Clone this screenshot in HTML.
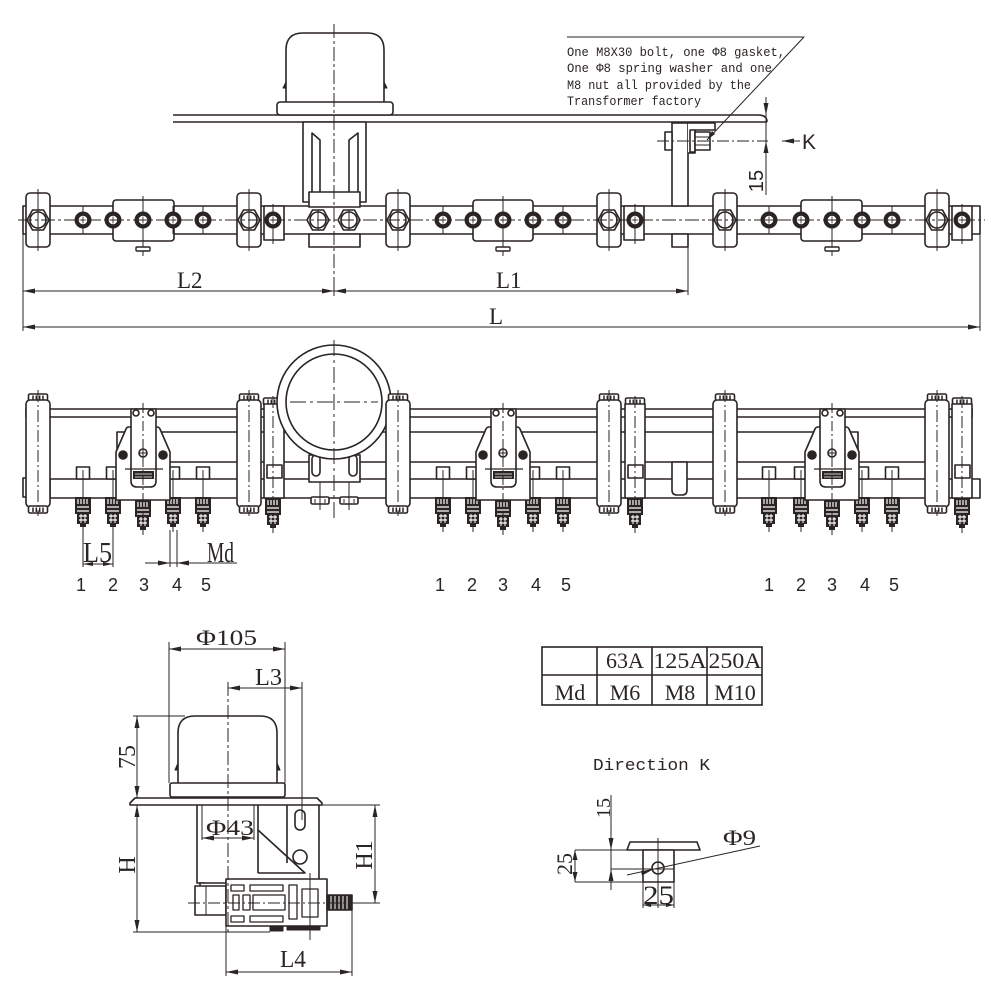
<!DOCTYPE html>
<html><head><meta charset="utf-8"><style>
html,body{margin:0;padding:0;background:#fff;}
svg{display:block}
.s{font-family:"Liberation Sans",sans-serif}
.r{font-family:"Liberation Serif",serif}
.m{font-family:"Liberation Mono",monospace}
</style></head><body>
<svg width="1000" height="1000" viewBox="0 0 1000 1000" xmlns="http://www.w3.org/2000/svg">
<defs>
 <g id="hx"><polygon points="-11,0 -5.5,-10 5.5,-10 11,0 5.5,10 -5.5,10" fill="#fff"/><circle r="8" fill="none"/></g>
 <g id="bt"><circle r="8.5" fill="#2a2422" stroke="none"/><circle r="4.8" fill="#fff" stroke-width="1"/><path d="M-3.5,0H3.5M0,-3.5V3.5" stroke-width="0.8" fill="none"/></g>
 <g id="ct"><rect x="-12" y="-27" width="24" height="54" rx="4" fill="#fff"/><use href="#hx"/><line x1="0" y1="-31" x2="0" y2="31" stroke-width="1"/></g>
 <g id="nut"><rect x="-9.5" y="0" width="19" height="7" rx="1.5" fill="#fff"/><path d="M-5,1.5V6M-1.7,1.5V6M1.7,1.5V6M5,1.5V6" stroke-width="1.5"/></g>
 <g id="pl">
  <use href="#nut" y="394"/>
  <rect x="-12" y="400" width="24" height="107" rx="4" fill="#fff"/>
  <use href="#nut" y="506"/>
  <line x1="0" y1="390" x2="0" y2="516" stroke-width="1" stroke-dasharray="12,3,2,3"/>
 </g>
 <g id="tm">
  <rect x="-8" y="0" width="16" height="17" fill="#2a2422" stroke="none"/>
  <path d="M-5,2V7M-2,2V7M1,2V7M4,2V7" stroke="#fff" stroke-width="1.2"/>
  <path d="M-6,10H6M-6,14H6" stroke="#fff" stroke-width="1.3"/>
  <rect x="-6" y="16" width="12" height="11" fill="#2a2422" stroke="none"/>
  <path d="M-4,19H4M-4,23H4" stroke="#fff" stroke-width="1.3"/>
  <path d="M-2,17V27M2,17V27" stroke="#fff" stroke-width="1"/>
  <rect x="-3" y="26" width="6" height="4" fill="#2a2422" stroke="none"/>
  <line x1="0" y1="28" x2="0" y2="35" stroke-width="1"/>
 </g>
 <g id="sl"><rect x="-6.5" y="467" width="13" height="12" fill="#fff"/><line x1="0" y1="470" x2="0" y2="498" stroke-width="1"/></g>
 <g id="br">
  <path d="M-27,500V452L-17,429Q-16,427-14,427H14Q16,427 17,429L27,452V500Z" fill="#fff"/>
  <path d="M-12,409V481Q-12,487-6,487H7Q13,487 13,481V409Z" fill="#fff"/>
  <circle cx="-7" cy="413" r="3" fill="#fff"/><circle cx="8" cy="413" r="3" fill="#fff"/>
  <circle cx="-20" cy="455" r="4" fill="#2a2422"/><circle cx="20" cy="455" r="4" fill="#2a2422"/>
  <circle cx="0" cy="453" r="4" fill="#fff"/><path d="M-4,453H4M0,449V457" stroke-width="1"/>
  <line x1="-18" y1="469" x2="20" y2="469" stroke-width="1.2"/>
  <rect x="-10" y="471" width="21" height="8" fill="#2a2422" stroke="none"/>
  <path d="M-8,474H9M-8,477H9" stroke="#fff" stroke-width="0.8"/>
  <line x1="0" y1="403" x2="0" y2="532" stroke-width="1" stroke-dasharray="10,3,2,3"/>
 </g>
</defs>

<g stroke="#2a2422" stroke-width="1.6" fill="none" stroke-linejoin="round">

<!-- ================= TOP VIEW ================= -->
<path d="M173,115H758Q767,115 767,122M173,122H767"/>
<path d="M286,102V50Q286,33 303,33H367Q384,33 384,50V102"/>
<path d="M286,82L283,88H286M384,82L387,88H384" fill="#2a2422" stroke-width="1"/>
<rect x="277" y="102" width="116" height="13" rx="3" fill="#fff"/>
<rect x="303" y="122" width="63" height="80" fill="#fff"/>
<path d="M312,192V133L320,140V192M358,192V133L349,140V192"/>
<!-- rail -->
<rect x="23" y="206" width="957" height="28" fill="#fff"/>
<rect x="309" y="192" width="51" height="15" fill="#fff"/>
<rect x="309" y="234" width="51" height="13" fill="#fff"/>
<!-- bracket -->
<rect x="672" y="123" width="16" height="83" fill="#fff"/>
<rect x="672" y="234" width="16" height="13" fill="#fff"/>
<path d="M688,123H715V130H695V153H688" fill="#fff"/>
<rect x="665" y="132" width="7" height="18" fill="#fff"/>
<rect x="690" y="130" width="5" height="22" fill="#fff"/>
<rect x="695" y="132" width="15" height="18" fill="#fff"/>
<path d="M695,137H710M695,145H710" stroke-width="1"/>
<line x1="657" y1="141" x2="768" y2="141" stroke-width="1" stroke-dasharray="12,3,2,3"/>
<!-- clamp boxes -->
<rect x="113" y="200" width="61" height="41" rx="3" fill="#fff"/>
<rect x="473" y="200" width="60" height="41" rx="3" fill="#fff"/>
<rect x="801" y="200" width="61" height="41" rx="3" fill="#fff"/>
<g stroke-width="1.4">
<path d="M143,196V256M503,196V256M832,196V256" stroke-width="1"/>
<rect x="136" y="247" width="14" height="4" rx="1" fill="#fff"/>
<rect x="496" y="247" width="14" height="4" rx="1" fill="#fff"/>
<rect x="825" y="247" width="14" height="4" rx="1" fill="#fff"/>
</g>
<!-- small blocks -->
<rect x="264" y="206" width="20" height="34" fill="#fff"/>
<rect x="624" y="206" width="20" height="34" fill="#fff"/>
<rect x="952" y="206" width="20" height="34" fill="#fff"/>
<!-- bolt thin lines -->
<path d="M83,206V234M113,206V234M173,206V234M203,206V234M273,204V244M443,206V234M473,206V234M533,206V234M563,206V234M635,204V244M769,206V234M801,206V234M862,206V234M892,206V234M962,204V244" stroke-width="1"/>
<!-- clamps -->
<use href="#ct" x="38" y="220"/><use href="#ct" x="249" y="220"/><use href="#ct" x="398" y="220"/>
<use href="#ct" x="609" y="220"/><use href="#ct" x="725" y="220"/><use href="#ct" x="937" y="220"/>
<use href="#hx" x="318" y="220"/><use href="#hx" x="349" y="220"/>
<path d="M318,210V230M349,210V230" stroke-width="1"/>
<!-- bolts -->
<use href="#bt" x="83" y="220"/><use href="#bt" x="113" y="220"/><use href="#bt" x="143" y="220"/><use href="#bt" x="173" y="220"/><use href="#bt" x="203" y="220"/>
<use href="#bt" x="273" y="220"/>
<use href="#bt" x="443" y="220"/><use href="#bt" x="473" y="220"/><use href="#bt" x="503" y="220"/><use href="#bt" x="533" y="220"/><use href="#bt" x="563" y="220"/>
<use href="#bt" x="635" y="220"/>
<use href="#bt" x="769" y="220"/><use href="#bt" x="801" y="220"/><use href="#bt" x="832" y="220"/><use href="#bt" x="862" y="220"/><use href="#bt" x="892" y="220"/>
<use href="#bt" x="962" y="220"/>
<!-- center lines -->
<line x1="18" y1="220" x2="985" y2="220" stroke-width="1" stroke-dasharray="14,3,3,3"/>
<line x1="334" y1="24" x2="334" y2="296" stroke-width="1" stroke-dasharray="14,3,3,3"/>
<!-- dims -->
<g stroke-width="1">
<path d="M23,206V331M688,247V295M980,234V331M334,280V296"/>
<path d="M23,291H688M23,327H980"/>
<path d="M766,97V195M782,141H800"/>
<path d="M567,37H804L707,140"/>
</g>
<g fill="#2a2422" stroke="none">
<polygon points="23,291 35,288.5 35,293.5"/><polygon points="334,291 322,288.5 322,293.5"/>
<polygon points="334,291 346,288.5 346,293.5"/><polygon points="688,291 676,288.5 676,293.5"/>
<polygon points="23,327 35,324.5 35,329.5"/><polygon points="980,327 968,324.5 968,329.5"/>
<polygon points="766,115 763.5,103 768.5,103"/><polygon points="766,141 763.5,153 768.5,153"/>
<polygon points="782,141 794,138.5 794,143.5"/>
<polygon points="707,140 712,131 715,134"/>
</g>
</g>

<g fill="#2a2422">
<text class="r" x="177" y="288" font-size="23">L2</text>
<text class="r" x="496" y="288" font-size="23">L1</text>
<text class="r" x="489" y="324" font-size="23">L</text>
<text class="s" x="802" y="149" font-size="21">K</text>
<text class="s" font-size="20" transform="translate(763,181) rotate(-90)" text-anchor="middle">15</text>
<text class="m" x="567" y="56" font-size="13" textLength="218" lengthAdjust="spacingAndGlyphs">One M8X30 bolt, one Φ8 gasket,</text>
<text class="m" x="567" y="72" font-size="13" textLength="205" lengthAdjust="spacingAndGlyphs">One Φ8 spring washer and one</text>
<text class="m" x="567" y="89" font-size="13" textLength="184" lengthAdjust="spacingAndGlyphs">M8 nut all provided by the</text>
<text class="m" x="567" y="105" font-size="13" textLength="134" lengthAdjust="spacingAndGlyphs">Transformer factory</text>
</g>

<!-- ================= MIDDLE VIEW ================= -->
<g stroke="#2a2422" stroke-width="1.6" fill="none" stroke-linejoin="round">
<rect x="26" y="409" width="946" height="8" fill="#fff"/>
<path d="M117,462V432H858V462M117,462H926"/>
<rect x="50" y="479" width="930" height="19" fill="#fff"/>
<rect x="23" y="478" width="4" height="19" fill="#fff"/>
<path d="M672,462V490Q672,495 677,495H682Q687,495 687,490V462Z" fill="#fff"/>
<!-- slots -->
<use href="#sl" x="83"/><use href="#sl" x="113"/><use href="#sl" x="173"/><use href="#sl" x="203"/>
<use href="#sl" x="443"/><use href="#sl" x="473"/><use href="#sl" x="533"/><use href="#sl" x="563"/>
<use href="#sl" x="769"/><use href="#sl" x="801"/><use href="#sl" x="862"/><use href="#sl" x="892"/>
<!-- terminals -->
<use href="#tm" x="83" y="497"/><use href="#tm" x="113" y="497"/><use href="#tm" x="143" y="500"/><use href="#tm" x="173" y="497"/><use href="#tm" x="203" y="497"/>
<use href="#tm" x="443" y="497"/><use href="#tm" x="473" y="497"/><use href="#tm" x="503" y="500"/><use href="#tm" x="533" y="497"/><use href="#tm" x="563" y="497"/>
<use href="#tm" x="769" y="497"/><use href="#tm" x="801" y="497"/><use href="#tm" x="832" y="500"/><use href="#tm" x="862" y="497"/><use href="#tm" x="892" y="497"/>
<use href="#tm" x="273" y="498"/><use href="#tm" x="635" y="498"/><use href="#tm" x="962" y="498"/>
<!-- small pillars -->
<g>
<use href="#nut" x="273" y="398"/><rect x="264" y="404" width="20" height="94" fill="#fff"/><rect x="267" y="465" width="15" height="13" fill="#fff"/><line x1="273" y1="396" x2="273" y2="498" stroke-width="1" stroke-dasharray="12,3,2,3"/>
<use href="#nut" x="635" y="398"/><rect x="625" y="404" width="20" height="94" fill="#fff"/><rect x="628" y="465" width="15" height="13" fill="#fff"/><line x1="635" y1="396" x2="635" y2="498" stroke-width="1" stroke-dasharray="12,3,2,3"/>
<use href="#nut" x="962" y="398"/><rect x="952" y="404" width="20" height="94" fill="#fff"/><rect x="955" y="465" width="15" height="13" fill="#fff"/><line x1="962" y1="396" x2="962" y2="498" stroke-width="1" stroke-dasharray="12,3,2,3"/>
</g>
<!-- saddle & circle -->
<rect x="309" y="455" width="51" height="27" fill="#fff"/>
<rect x="312" y="455" width="8" height="21" rx="4" fill="#fff"/>
<rect x="349" y="455" width="8" height="21" rx="4" fill="#fff"/>
<rect x="311" y="497" width="18" height="7" rx="1.5" fill="#fff"/><rect x="340" y="497" width="18" height="7" rx="1.5" fill="#fff"/>
<path d="M320,482V510M349,482V510M315,499V503M325,499V503M344,499V503M354,499V503" stroke-width="1"/>
<circle cx="334" cy="402" r="57" fill="#fff"/>
<circle cx="334" cy="402" r="48" fill="#fff"/>
<line x1="290" y1="402" x2="378" y2="402" stroke-width="1" stroke-dasharray="16,4,3,4"/>
<line x1="334" y1="340" x2="334" y2="518" stroke-width="1" stroke-dasharray="16,4,3,4"/>
<!-- pillars -->
<use href="#pl" x="38"/><use href="#pl" x="249"/><use href="#pl" x="398"/>
<use href="#pl" x="609"/><use href="#pl" x="725"/><use href="#pl" x="937"/>
<!-- brackets -->
<use href="#br" x="143"/><use href="#br" x="503"/><use href="#br" x="832"/>
<!-- L5 / Md dims -->
<g stroke-width="1">
<path d="M83,530V567M113,530V567M83,564H113"/>
<path d="M170,530V567M177,530V567M145,563H237"/>
</g>
<g fill="#2a2422" stroke="none">
<polygon points="83,564 93,562 93,566"/><polygon points="113,564 103,562 103,566"/>
<polygon points="170,563 158,560.5 158,565.5"/><polygon points="177,563 189,560.5 189,565.5"/>
</g>
</g>
<g fill="#2a2422">
<text class="r" x="83" y="562" font-size="28" textLength="29" lengthAdjust="spacingAndGlyphs">L5</text>
<text class="r" x="207" y="562" font-size="28" textLength="27" lengthAdjust="spacingAndGlyphs">Md</text>
<g class="s" font-size="18" text-anchor="middle">
<text x="81" y="591">1</text><text x="113" y="591">2</text><text x="144" y="591">3</text><text x="177" y="591">4</text><text x="206" y="591">5</text>
<text x="440" y="591">1</text><text x="472" y="591">2</text><text x="503" y="591">3</text><text x="536" y="591">4</text><text x="566" y="591">5</text>
<text x="769" y="591">1</text><text x="801" y="591">2</text><text x="832" y="591">3</text><text x="865" y="591">4</text><text x="894" y="591">5</text>
</g>
</g>

<!-- ================= SIDE VIEW ================= -->
<g stroke="#2a2422" stroke-width="1.6" fill="none" stroke-linejoin="round">
<path d="M178,783V733Q178,716 195,716H260Q277,716 277,733V783"/>
<path d="M178,763L175,770H178M277,763L280,770H277" fill="#2a2422" stroke-width="1"/>
<rect x="170" y="783" width="115" height="14" rx="2" fill="#fff"/>
<path d="M130,803L135,798H317L322,803V805H130Z" fill="#fff"/>
<path d="M197,805V883H205M258,805V873"/>
<path d="M202,805V840M254,805V840" stroke-width="1"/>
<path d="M258,830L305,873H258"/>
<path d="M287,805V863M319,805V880"/>
<rect x="295" y="810" width="10" height="20" rx="5"/>
<circle cx="300" cy="857" r="7"/>
<!-- switch -->
<rect x="200" y="883" width="26" height="4" fill="#fff"/>
<rect x="195" y="886" width="31" height="29" fill="#fff"/>
<line x1="206" y1="886" x2="206" y2="915" stroke-width="1"/>
<rect x="226" y="879" width="101" height="47" fill="#fff"/>
<g stroke-width="1.3">
<rect x="231" y="885" width="13" height="6"/><rect x="250" y="885" width="33" height="6"/>
<rect x="289" y="885" width="8" height="34"/><rect x="302" y="889" width="16" height="28"/>
<rect x="233" y="895" width="6" height="15"/><rect x="243" y="895" width="7" height="15"/><rect x="253" y="895" width="32" height="15"/>
<rect x="231" y="916" width="13" height="6"/><rect x="250" y="916" width="33" height="6"/>
</g>
<rect x="270" y="926" width="13" height="5" fill="#2a2422" stroke-width="1"/>
<rect x="287" y="926" width="33" height="4" fill="#2a2422" stroke-width="1"/>
<rect x="327" y="895" width="25" height="15" fill="#2a2422"/>
<path d="M331,896V909M335,896V909M339,896V909M343,896V909M347,896V909" stroke="#fff" stroke-width="1"/>
<line x1="310" y1="873" x2="310" y2="940" stroke-width="1"/>
<line x1="188" y1="903" x2="380" y2="903" stroke-width="1" stroke-dasharray="12,3,2,3"/>
<line x1="228" y1="682" x2="228" y2="935" stroke-width="1" stroke-dasharray="14,3,3,3"/>
<!-- dims -->
<g stroke-width="1">
<path d="M169,642V783M285,642V783M169,649H285"/>
<path d="M302,682V820M228,688H302"/>
<path d="M133,716H185M137,716V798M137,805V932M133,932H270"/>
<path d="M202,838H254"/>
<path d="M322,805H380M352,903H380M375,805V903"/>
<path d="M226,926V976M352,910V976M226,972H352"/>
</g>
<g fill="#2a2422" stroke="none">
<polygon points="169,649 181,646.5 181,651.5"/><polygon points="285,649 273,646.5 273,651.5"/>
<polygon points="228,688 240,685.5 240,690.5"/><polygon points="302,688 290,685.5 290,690.5"/>
<polygon points="137,716 134.5,728 139.5,728"/><polygon points="137,798 134.5,786 139.5,786"/>
<polygon points="137,805 134.5,817 139.5,817"/><polygon points="137,932 134.5,920 139.5,920"/>
<polygon points="202,838 214,835.5 214,840.5"/><polygon points="254,838 242,835.5 242,840.5"/>
<polygon points="375,805 372.5,817 377.5,817"/><polygon points="375,903 372.5,891 377.5,891"/>
<polygon points="226,972 238,969.5 238,974.5"/><polygon points="352,972 340,969.5 340,974.5"/>
</g>
</g>
<g fill="#2a2422" class="r">
<text x="196" y="645" font-size="22" textLength="61" lengthAdjust="spacingAndGlyphs">Φ105</text>
<text x="255" y="685" font-size="24" textLength="27" lengthAdjust="spacingAndGlyphs">L3</text>
<text x="206" y="835" font-size="22" textLength="48" lengthAdjust="spacingAndGlyphs">Φ43</text>
<text x="280" y="967" font-size="24" textLength="26" lengthAdjust="spacingAndGlyphs">L4</text>
<text font-size="24" transform="translate(135,757) rotate(-90)" text-anchor="middle">75</text>
<text font-size="24" transform="translate(135,865) rotate(-90)" text-anchor="middle">H</text>
<text font-size="24" transform="translate(372,855) rotate(-90)" text-anchor="middle">H1</text>
</g>

<!-- ================= TABLE ================= -->
<g stroke="#2a2422" stroke-width="1.6" fill="none">
<rect x="542" y="647" width="220" height="58"/>
<path d="M542,675H762M597,647V705M652,647V705M707,647V705"/>
</g>
<g fill="#2a2422" class="r" font-size="22" text-anchor="middle">
<text x="625" y="668">63A</text><text x="680" y="668" textLength="53" lengthAdjust="spacingAndGlyphs">125A</text><text x="735" y="668" textLength="53" lengthAdjust="spacingAndGlyphs">250A</text>
<text x="570" y="700">Md</text><text x="625" y="700">M6</text><text x="680" y="700">M8</text><text x="735" y="700">M10</text>
</g>

<!-- ================= DIRECTION K ================= -->
<text class="m" x="593" y="770" font-size="17" fill="#2a2422" textLength="117" lengthAdjust="spacingAndGlyphs">Direction K</text>
<g stroke="#2a2422" stroke-width="1.6" fill="none" stroke-linejoin="round">
<path d="M627,850L630,842H697L700,850Z" fill="#fff"/>
<rect x="643" y="850" width="31" height="32" fill="#fff"/>
<circle cx="658" cy="868" r="6"/>
<g stroke-width="1">
<path d="M658,838V908M611,869H674"/>
<path d="M611,795V890"/>
<path d="M575,850H643M575,882H643M575,850V882"/>
<path d="M627,875L760,846"/>
<path d="M643,882V908M674,882V908M643,905H674"/>
</g>
<g fill="#2a2422" stroke="none">
<polygon points="611,850 608.5,838 613.5,838"/><polygon points="611,869 608.5,881 613.5,881"/>
<polygon points="575,850 572.5,860 577.5,860"/><polygon points="575,882 572.5,872 577.5,872"/>
<polygon points="652,870 641,871 642,875.5"/>
<polygon points="643,905 651,903 651,907"/><polygon points="674,905 666,903 666,907"/>
</g>
</g>
<g fill="#2a2422" class="r">
<text font-size="20" transform="translate(610,808) rotate(-90)" text-anchor="middle">15</text>
<text font-size="22" transform="translate(572,864) rotate(-90)" text-anchor="middle">25</text>
<text x="643" y="904" font-size="26" textLength="31" lengthAdjust="spacingAndGlyphs">25</text>
<text x="723" y="845" font-size="22" textLength="33" lengthAdjust="spacingAndGlyphs">Φ9</text>
</g>
</svg>
</body></html>
